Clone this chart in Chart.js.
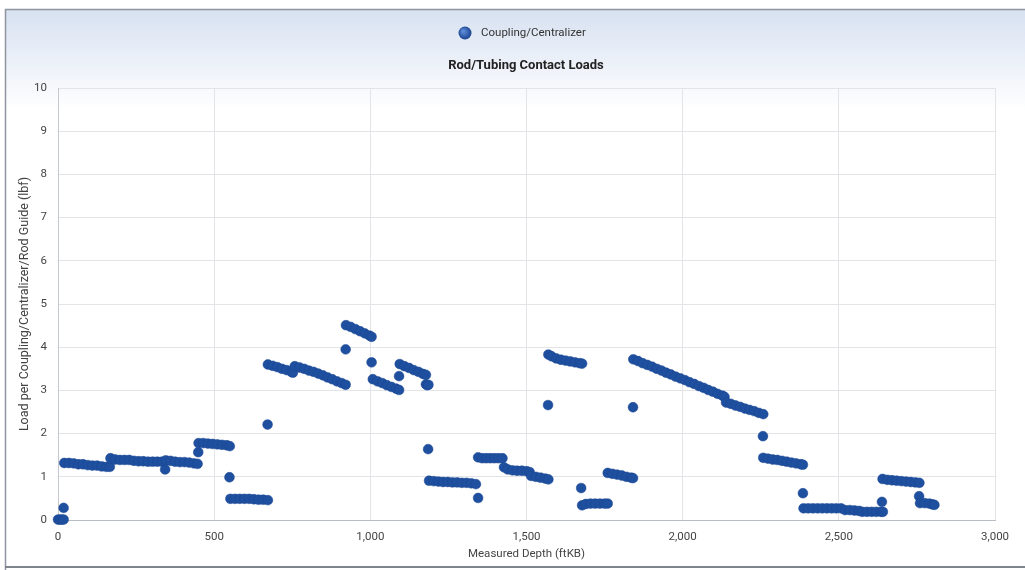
<!DOCTYPE html>
<html>
<head>
<meta charset="utf-8">
<script src="https://cdn.jsdelivr.net/npm/chart.js@4.4.1/dist/chart.umd.min.js"></script>
<style>
    html, body { margin: 0; padding: 0; background: #fff; }
    #wrap { width: 1025px; height: 570px; position: relative; }
</style>
</head>
<body>
<div id="wrap"><canvas id="contactChart"></canvas></div>
<script>
// Measured depth (ftKB) of each coupling / centralizer
const depth = [
    0, 6, 12, 18, 18,
    20, 35, 50, 65, 80, 95, 110, 125, 140, 155, 166,
    168, 183, 198, 213, 228, 243, 258, 273, 288, 303, 318, 333, 343, 345, 360, 375, 390, 405, 420, 435, 447,
    449,
    450, 465, 480, 495, 510, 525, 540, 550,
    549,
    552, 567, 582, 597, 612, 627, 642, 657, 672,
    671,
    672, 687, 702, 717, 732, 747, 752,
    758, 773, 788, 803, 818, 833, 848, 863, 878, 893, 908, 921,
    921,
    922, 937, 952, 967, 982, 997, 1004,
    1004,
    1008, 1023, 1038, 1053, 1068, 1083, 1092,
    1092,
    1094, 1109, 1124, 1139, 1154, 1169, 1178,
    1178, 1182, 1186,
    1185,
    1188, 1203, 1218, 1233, 1248, 1263, 1278, 1293, 1308, 1323, 1338,
    1345,
    1345, 1358, 1371, 1384, 1397, 1410, 1423,
    1428, 1440, 1455, 1470, 1485, 1500, 1510,
    1515, 1530, 1545, 1560, 1570,
    1569,
    1570, 1580, 1595, 1610, 1625, 1640, 1655, 1670, 1678,
    1675,
    1678, 1690, 1705, 1720, 1735, 1750, 1760,
    1760, 1775, 1790, 1805, 1820, 1835, 1841,
    1841,
    1842, 1857, 1872, 1887, 1902, 1917, 1932, 1947, 1962, 1977, 1992, 2007, 2022, 2037, 2052, 2067, 2082, 2097, 2112, 2127, 2134,
    2139, 2154, 2169, 2184, 2199, 2214, 2229, 2244, 2258,
    2257,
    2258, 2273, 2288, 2303, 2318, 2333, 2348, 2363, 2378, 2385,
    2385,
    2387, 2402, 2417, 2432, 2447, 2462, 2477, 2492, 2507, 2520, 2535, 2550, 2565, 2575, 2590, 2605, 2620, 2635, 2641,
    2638,
    2640, 2655, 2670, 2685, 2700, 2715, 2730, 2745, 2758,
    2757,
    2760, 2775, 2790, 2800, 2806
];

// Load per coupling/centralizer/rod guide (lbf), same order as depth
const load = [
    0.01, 0.01, 0.01, 0.01, 0.28,
    1.32, 1.32, 1.31, 1.29, 1.29, 1.27, 1.26, 1.26, 1.24, 1.23, 1.23,
    1.43, 1.40, 1.39, 1.39, 1.39, 1.37, 1.36, 1.36, 1.35, 1.35, 1.35, 1.35, 1.17, 1.38, 1.37, 1.35, 1.34, 1.34, 1.33, 1.31, 1.30,
    1.57,
    1.78, 1.78, 1.77, 1.76, 1.75, 1.74, 1.73, 1.71,
    0.99,
    0.49, 0.49, 0.49, 0.49, 0.49, 0.48, 0.47, 0.47, 0.46,
    2.21,
    3.60, 3.57, 3.54, 3.50, 3.47, 3.43, 3.41,
    3.56, 3.53, 3.50, 3.46, 3.43, 3.39, 3.35, 3.30, 3.26, 3.21, 3.17, 3.13,
    3.95,
    4.51, 4.47, 4.42, 4.37, 4.32, 4.27, 4.24,
    3.65,
    3.26, 3.21, 3.17, 3.12, 3.08, 3.04, 3.01,
    3.33,
    3.61, 3.56, 3.52, 3.47, 3.43, 3.38, 3.36,
    3.14, 3.12, 3.13,
    1.64,
    0.91, 0.90, 0.89, 0.88, 0.88, 0.87, 0.87, 0.86, 0.86, 0.85, 0.83,
    0.51,
    1.45, 1.43, 1.43, 1.43, 1.43, 1.43, 1.43,
    1.22, 1.17, 1.15, 1.14, 1.14, 1.13, 1.11,
    1.02, 1.00, 0.98, 0.96, 0.94,
    2.66,
    3.83, 3.79, 3.74, 3.71, 3.69, 3.67, 3.65, 3.63, 3.62,
    0.74,
    0.34, 0.37, 0.38, 0.38, 0.38, 0.38, 0.38,
    1.09, 1.07, 1.05, 1.03, 1.00, 0.98, 0.97,
    2.61,
    3.72, 3.68, 3.63, 3.59, 3.55, 3.50, 3.46, 3.41, 3.37, 3.32, 3.28, 3.24, 3.19, 3.15, 3.10, 3.06, 3.01, 2.97, 2.92, 2.88, 2.85,
    2.72, 2.69, 2.65, 2.62, 2.58, 2.55, 2.52, 2.48, 2.45,
    1.94,
    1.44, 1.42, 1.40, 1.39, 1.37, 1.35, 1.33, 1.31, 1.29, 1.28,
    0.62,
    0.27, 0.27, 0.27, 0.27, 0.27, 0.27, 0.27, 0.27, 0.27, 0.23, 0.23, 0.22, 0.21, 0.19, 0.19, 0.19, 0.19, 0.19, 0.19,
    0.42,
    0.95, 0.93, 0.92, 0.91, 0.90, 0.89, 0.88, 0.87, 0.86,
    0.55,
    0.39, 0.39, 0.38, 0.36, 0.35
];

const xTicks = [0, 500, 1000, 1500, 2000, 2500, 3000];
const yTicks = [0, 1, 2, 3, 4, 5, 6, 7, 8, 9, 10];

const seriesName = 'Coupling/Centralizer';
const chartTitle = 'Rod/Tubing Contact Loads';
const xTitle = 'Measured Depth (ftKB)';
const yTitle = 'Load per Coupling/Centralizer/Rod Guide (lbf)';

const FONT = 'Roboto';
const pointBlue = '#1f4f9f';

const points = depth.map((d, i) => ({x: d, y: load[i]}));

// frame + light blue gradient behind the whole chart
const backdrop = {
    id: 'backdrop',
    beforeDraw(chart) {
        const c = chart.ctx;
        c.save();
        c.fillStyle = '#ffffff';
        c.fillRect(0, 0, chart.width, chart.height);
        const g = c.createLinearGradient(0, 9, 0, 110);
        g.addColorStop(0, '#d7e1f1');
        g.addColorStop(1, '#ffffff');
        c.fillStyle = g;
        c.fillRect(5, 9, chart.width - 5, 558);
        c.strokeStyle = '#8e959e';
        c.lineWidth = 1.5;
        c.beginPath();
        c.moveTo(5.5, chart.height);
        c.lineTo(5.5, 9.5);
        c.lineTo(chart.width, 9.5);
        c.stroke();
        c.strokeStyle = '#7d848c';
        c.lineWidth = 2;
        c.beginPath();
        c.moveTo(5, 567);
        c.lineTo(chart.width, 567);
        c.stroke();
        c.restore();
    }
};

// legend marker + chart title drawn at their spots above the plot
const header = {
    id: 'header',
    afterDraw(chart) {
        const c = chart.ctx;
        c.save();
        const rg = c.createRadialGradient(463, 31, 1, 465, 33, 7);
        rg.addColorStop(0, '#5a8ad6');
        rg.addColorStop(1, '#173f8c');
        c.fillStyle = rg;
        c.beginPath();
        c.arc(465, 33, 6.5, 0, Math.PI * 2);
        c.fill();
        c.fillStyle = '#333';
        c.font = '11.5px ' + FONT;
        c.textBaseline = 'middle';
        c.textAlign = 'left';
        c.fillText(seriesName, 481, 33);
        c.font = 'bold 13px ' + FONT;
        c.textAlign = 'center';
        c.fillStyle = '#222';
        c.fillText(chartTitle, 526, 66);
        c.restore();
    }
};

new Chart(document.getElementById('contactChart'), {
    type: 'scatter',
    data: {
        datasets: [{
            label: seriesName,
            data: points,
            backgroundColor: pointBlue,
            borderColor: '#1a4690',
            borderWidth: 0.5,
            pointRadius: 4.9,
            pointHoverRadius: 4.9,
            clip: false
        }]
    },
    options: {
        responsive: true,
        maintainAspectRatio: false,
        animation: false,
        layout: {padding: {top: 88, left: 5, right: 30, bottom: 0}},
        plugins: {
            legend: {display: false},
            title: {display: false},
            tooltip: {enabled: false}
        },
        scales: {
            x: {
                type: 'linear',
                min: 0,
                max: 3000,
                afterBuildTicks: scale => { scale.ticks = xTicks.map(v => ({value: v})); },
                afterFit: scale => { scale.height = 50; },
                grid: {color: '#e2e4e8', drawTicks: false},
                border: {color: '#b9bec6'},
                ticks: {padding: 10, color: '#444', font: {family: FONT, size: 11.5}},
                title: {
                    display: true, text: xTitle, color: '#444',
                    font: {family: FONT, size: 11.5}, padding: {top: 0, bottom: 9}
                }
            },
            y: {
                min: 0,
                max: 10,
                afterBuildTicks: scale => { scale.ticks = yTicks.map(v => ({value: v})); },
                afterFit: scale => { scale.width = 53; },
                grid: {color: '#e2e4e8', drawTicks: false},
                border: {color: '#c4c8cf'},
                ticks: {padding: 11, color: '#444', font: {family: FONT, size: 11.5}},
                title: {
                    display: true, text: yTitle, color: '#444',
                    font: {family: FONT, size: 12.5}, padding: {top: 12, bottom: 0}
                }
            }
        }
    },
    plugins: [backdrop, header]
});
</script>
</body>
</html>
